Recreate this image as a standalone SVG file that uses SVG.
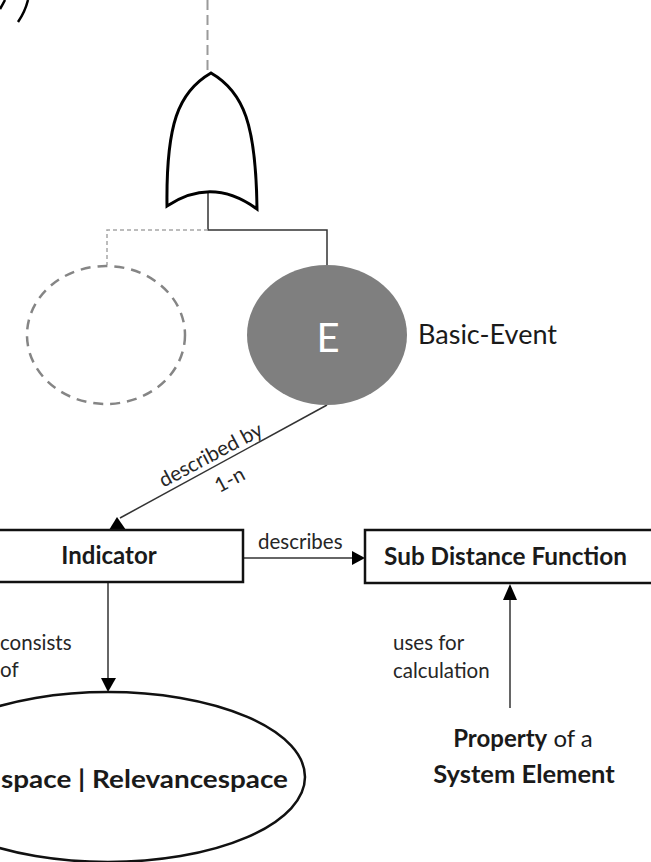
<svg xmlns="http://www.w3.org/2000/svg" width="651" height="862" viewBox="0 0 651 862">
  <defs>
    <style>
      text { font-family: Lato, "Open Sans", "Liberation Sans", sans-serif; fill: #1a1a1a; }
      .bold { font-weight: bold; font-size: 24px; }
      .lbl { font-size: 20.5px; fill: #262626; }
      .box { fill: #fff; stroke: #111; stroke-width: 2.5; }
      .conn { fill: none; stroke: #333; stroke-width: 1.5; }
      .head { fill: #000; }
      .dash { fill: none; stroke: #a6a6a6; stroke-width: 1.5; stroke-dasharray: 4 3; }
    </style>
  </defs>

  <!-- fragments of a shape above the visible area -->
  <g id="fragment" fill="none" stroke="#000" stroke-width="2.5">
    <path d="M0,9 Q3,4 5,0"/>
    <path d="M18,22 Q25,12 28,0"/>
  </g>

  <!-- connectors -->
  <g id="connectors">
    <line x1="207.5" y1="0" x2="207.5" y2="73" stroke="#9a9a9a" stroke-width="2" stroke-dasharray="10 5"/>
    <polyline class="conn" stroke="#555" points="208,192 208,230 327,230 327,265"/>
    <polyline class="dash" points="208,230 107,230 107,265"/>
    <line class="conn" x1="327" y1="405" x2="120" y2="518"/>
    <polygon class="head" points="117,517 126,530 109,530"/>
    <line class="conn" x1="243" y1="558" x2="353" y2="558"/>
    <polygon class="head" points="352,551 365,558 352,565"/>
    <line class="conn" x1="108" y1="582" x2="108" y2="680"/>
    <polygon class="head" points="101,678 116,678 108,692"/>
    <line class="conn" x1="510" y1="708" x2="510" y2="598"/>
    <polygon class="head" points="503,600 517,600 510,584"/>
    <text class="lbl" transform="rotate(-28 214 461)" x="214" y="461" text-anchor="middle">described by</text>
    <text class="lbl" transform="rotate(-28 233 486)" x="233" y="486" text-anchor="middle">1-n</text>
    <text class="lbl" x="258" y="549">describes</text>
    <text class="lbl" x="0" y="650">consists</text>
    <text class="lbl" x="0" y="677">of</text>
    <text class="lbl" x="393" y="650">uses for</text>
    <text class="lbl" x="393" y="678">calculation</text>
  </g>

  <!-- OR gate -->
  <g id="or-gate">
    <path d="M211,73 C178,92 166,125 167,206 Q212,176 257,209 C256,125 244,92 211,73 Z" fill="#fff" stroke="#000" stroke-width="3" stroke-linejoin="miter"/>
  </g>

  <!-- undeveloped sibling event -->
  <g id="sibling-event">
    <ellipse cx="106" cy="335" rx="79" ry="69" fill="none" stroke="#858585" stroke-width="2.5" stroke-dasharray="10 7"/>
  </g>

  <!-- basic event -->
  <g id="basic-event">
    <ellipse cx="327" cy="335" rx="80" ry="70" fill="#7f7f7f"/>
    <text x="328" y="352" text-anchor="middle" font-size="40" style="fill:#fff">E</text>
    <text x="418" y="344" font-size="26" textLength="139" lengthAdjust="spacingAndGlyphs">Basic-Event</text>
  </g>

  <!-- indicator -->
  <g id="indicator">
    <rect class="box" x="-5" y="530" width="248" height="52"/>
    <text class="bold" x="109" y="564" text-anchor="middle">Indicator</text>
  </g>

  <!-- sub distance function -->
  <g id="sub-distance-function">
    <rect class="box" x="365" y="530" width="300" height="53"/>
    <text class="bold" x="384" y="565" textLength="243" lengthAdjust="spacingAndGlyphs">Sub Distance Function</text>
  </g>

  <!-- space ellipse -->
  <g id="space">
    <ellipse cx="108" cy="777" rx="197" ry="85" fill="#fff" stroke="#111" stroke-width="2.5"/>
    <text class="bold" x="1" y="788" font-size="26" textLength="287" lengthAdjust="spacingAndGlyphs">space | Relevancespace</text>
  </g>

  <!-- property of a system element -->
  <g id="property">
    <text x="523" y="747" text-anchor="middle" font-size="24"><tspan font-weight="bold">Property</tspan> of a</text>
    <text class="bold" x="524" y="783" text-anchor="middle" style="font-size:25.5px">System Element</text>
  </g>
</svg>
